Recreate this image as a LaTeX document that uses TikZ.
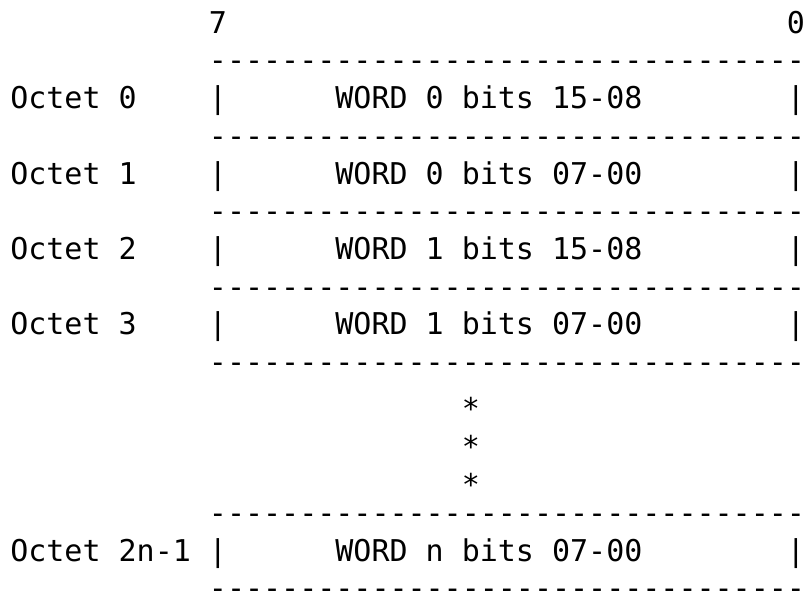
\documentclass[tikz,border=0pt]{standalone}
\usepackage{fontspec}
\setmonofont{DejaVu Sans Mono}
\begin{document}
\begin{tikzpicture}[x=1pt,y=-1pt,
  txt/.style={anchor=base west,inner sep=0pt,outer sep=0pt,font=\ttfamily\fontsize{30}{36}\selectfont},
  startxt/.style={txt,yshift=-9.5pt}]
\useasboundingbox (0,0) rectangle (806,596);
% grid: column c -> 10.3+18.06c ; row r baseline -> 33.3+37.7r
\def\cx#1{10.3+18.06*#1}
\def\ry#1{33.3+37.7*#1}
% header
\node[txt] (top7) at ({\cx{11}},{\ry{0}}) {7};
\node[txt] (top0) at ({\cx{43}},{\ry{0}}) {0};
% dash rows
\foreach \r/\n in {1/d1,3/d3,5/d5,7/d7,9/d9,13/d13,15/d15}
  \node[txt] (\n) at ({\cx{11}},{\ry{\r}}) {---------------------------------};
% octet rows
\foreach \r/\lab/\w/\n in {2/Octet 0/WORD 0 bits 15-08/a,
                           4/Octet 1/WORD 0 bits 07-00/b,
                           6/Octet 2/WORD 1 bits 15-08/c,
                           8/Octet 3/WORD 1 bits 07-00/d,
                           14/Octet 2n-1/WORD n bits 07-00/e}{
  \node[txt] (lab\n) at ({\cx{0}},{\ry{\r}}) {\lab};
  \node[txt] (lbar\n) at ({\cx{11}},{\ry{\r}}) {|};
  \node[txt] (word\n) at ({\cx{18}},{\ry{\r}}) {\w};
  \node[txt] (rbar\n) at ({\cx{43}},{\ry{\r}}) {|};
}
% ellipsis stars
\node[startxt] (s1) at ({\cx{25}},{\ry{10}}) {*};
\node[startxt] (s2) at ({\cx{25}},{\ry{11}}) {*};
\node[startxt] (s3) at ({\cx{25}},{\ry{12}}) {*};
\end{tikzpicture}
\end{document}
